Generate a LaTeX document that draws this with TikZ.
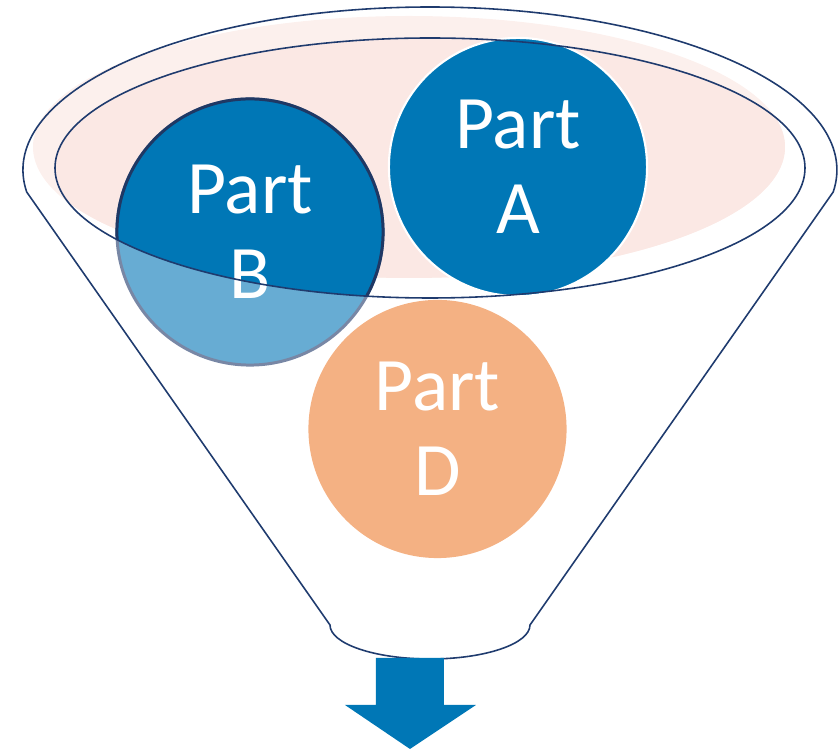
\documentclass[tikz,border=0pt]{standalone}
\usepackage{fontspec}
\setmainfont{Carlito}
\usepackage{tikz}
\usetikzlibrary{positioning}
\definecolor{partblue}{HTML}{0077B6}
\definecolor{partbluelight}{HTML}{67ACD3}
\definecolor{partorange}{HTML}{F4B183}
\definecolor{funnelline}{HTML}{1F3B6E}
\definecolor{rimpink}{HTML}{FBE8E4}
\definecolor{rimpinklight}{HTML}{FCF0ED}
\definecolor{edgegray}{HTML}{7887A5}
\definecolor{edgedark}{HTML}{1F3864}

\begin{document}
\begin{tikzpicture}[
  x=0.01cm, y=-0.01cm,
  ball/.style={circle,align=center,text=white,inner sep=0pt,
    font=\fontsize{21.5}{24.2}\selectfont},
  outline/.style={draw=funnelline,line width=0.45pt}
]
\useasboundingbox (0,0) rectangle (838,749);
% pink surface of the opening
\fill[rimpinklight] (409,147) ellipse [x radius=376, y radius=131];
\begin{scope}
  \clip (430,168) ellipse [x radius=375, y radius=130];
  \fill[rimpink] (409,147) ellipse [x radius=376, y radius=131];
\end{scope}
% parts
\node[ball, fill=partblue, draw=white, line width=0.6pt, minimum size=2.58cm] (partA) at (518,167) {Part\\A};
\node[ball, fill=partbluelight, draw=edgegray, line width=0.85pt, minimum size=2.66cm] (partB) at (250,232) {};
\begin{scope}
  \clip (430,168) ellipse [x radius=375, y radius=130];
  \node[ball, fill=partblue, draw=edgedark, line width=0.85pt, minimum size=2.66cm] at (partB) {};
\end{scope}
\node[ball, minimum size=2.66cm] at (partB) {Part\\B};
\node[ball, fill=partorange, minimum size=2.58cm] (partD) at (437.5,429) {Part\\D};
% funnel
\draw[outline] (330,625) -- (26.7,192)
  arc[start angle=172.24, end angle=367.76, x radius=407, y radius=163]
  -- (530,625) arc[start angle=0, end angle=180, x radius=100, y radius=34] -- cycle;
\draw[outline] (430,168) ellipse [x radius=375, y radius=130];
% output arrow
\coordinate (spout) at (410,658);
\fill[partblue] (spout) ++(-34,0) -- ++(68,0) -- ++(0,47) -- ++(32,0)
  -- (410,749) -- (345,705) -- (376,705) -- cycle;
\end{tikzpicture}
\end{document}
